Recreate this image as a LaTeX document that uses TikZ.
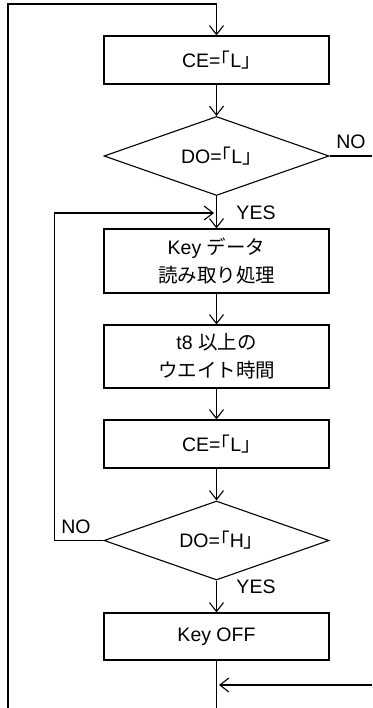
\documentclass[tikz,border=0pt]{standalone}
\usepackage{fontspec}
\setmainfont{Liberation Sans}
\newfontfamily\jp{Noto Sans CJK JP}
\usetikzlibrary{arrows.meta,shapes.geometric}
\tikzset{
  proc/.style={draw, line width=1.1bp, minimum width=225bp, align=center, inner sep=0pt},
  decide/.style={draw, diamond, aspect=2.85, line width=1.1bp, minimum width=225bp, minimum height=79bp, inner sep=0pt},
  flow/.style={line width=1.1bp, -{Straight Barb[length=9bp,width=14bp]}},
  wire/.style={line width=1.1bp},
  lbl/.style={inner sep=0pt}
}

\begin{document}
\begin{tikzpicture}[x=1bp, y=-1bp, font=\fontsize{19.5bp}{28bp}\selectfont]
\useasboundingbox (0,0) rectangle (372,708);

% Main column
\node[proc, minimum height=48bp] (ce1) at (216.5,60) {CE={\jp ｢}L{\jp ｣}};
\node[decide] (dol) at (216.5,156) {DO={\jp ｢}L{\jp ｣}};
\node[proc, minimum height=64bp] (read) at (216.5,261) {Key {\jp データ}\\{\jp 読み取り処理}};
\node[proc, minimum height=63bp] (wait) at (216.5,356.5) {t8 {\jp 以上の}\\{\jp ウエイト時間}};
\node[proc, minimum height=48bp] (ce2) at (216.5,444) {CE={\jp ｢}L{\jp ｣}};
\node[decide] (doh) at (216.5,540.5) {DO={\jp ｢}H{\jp ｣}};
\node[proc, minimum height=47bp] (off) at (216.5,636.5) {Key OFF};

% Helper points
\coordinate (outer) at (8,708);
\coordinate (top) at (216.5,4);
\coordinate (join) at (214,213);
\coordinate (noout) at (372,156);
\coordinate (bottom) at (216.5,708);
\coordinate (rin) at (372,685);
\coordinate (rjoin) at (219,685);

% Connectors
\draw[flow] (outer) |- (top) -- (ce1);
\draw[flow] (ce1) -- (dol);
\draw[flow] (dol) -- (read);
\draw[flow] (read) -- (wait);
\draw[flow] (wait) -- (ce2);
\draw[flow] (ce2) -- (doh);
\draw[flow] (doh) -- (off);
\draw[wire] (dol.east) -- (noout);
\draw[flow] (doh.west) -- ++(-49,0) |- (join);
\draw[wire] (off) -- (bottom);
\draw[flow] (rin) -- (rjoin);

% Branch labels
\node[lbl] (no1) at (351,141.5) {NO};
\node[lbl] (yes1) at (256,213) {YES};
\node[lbl] (no2) at (76,526.5) {NO};
\node[lbl] (yes2) at (256,587) {YES};
\end{tikzpicture}
\end{document}
